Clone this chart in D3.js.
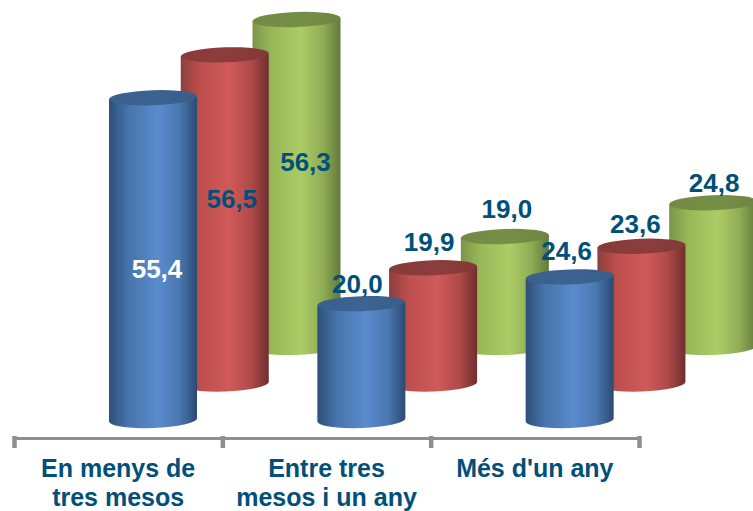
<!DOCTYPE html>
<html>
<head>
<meta charset="utf-8">
<script src="https://cdn.jsdelivr.net/npm/d3@7"></script>
<style>
	html, body {margin: 0; padding: 0; background: #fff; overflow: hidden;}
	svg {display: block;}
	text {font-family: "Liberation Sans", Arial, sans-serif; font-weight: bold; fill: #00507a;}
</style>
</head>
<body>
<div id="chart"></div>
<script>
// data
const CATEGORIES = ["En menys de|tres mesos", "Entre tres|mesos i un any", "Més d'un any"];
const SERIES = ["a", "b", "c"];
const VALUES_A = [55.4, 20.0, 24.6];
const VALUES_B = [56.5, 19.9, 23.6];
const VALUES_C = [56.3, 19.0, 24.8];

// frame
const FRAME_WIDTH = 753;
const FRAME_HEIGHT = 511;
const AXIS_Y = 438;
const BASE_Y = 420;
const BAR_LEFT = 95;
const RX = 44;
const RY = 7.5;
const TILT = 1.6;		// ellipses lean a little, right side up

const COLORS = {
	a: {top: "#3c6492", side: ["#2e4f78", "#4674ab", "#5a8bcd", "#4a78b0", "#2b4a70"]},
	b: {top: "#8c3d3b", side: ["#8c3f3e", "#bd4f4d", "#d05a58", "#ae4a48", "#6f2f2e"]},
	c: {top: "#768f46", side: ["#7c9548", "#98b858", "#abcd66", "#90ac55", "#62793a"]}
};

// label position relative to top centre of each cylinder, one row per series
const LABEL_NUDGE = {
	a: [[4, 171], [-4, -20], [-3, -26]],
	b: [[7, 144], [-4, -26], [-6, -22]],
	c: [[9, 142], [2, -27], [1, -20]]
};

const FRAME = d3.select("#chart")
				.append("svg")
					.attr("width", FRAME_WIDTH)
					.attr("height", FRAME_HEIGHT);

// scales
const X_SCALE = d3.scaleBand()
					.domain(CATEGORIES)
					.range([14, 639]);

const SERIES_X = d3.scalePoint()
					.domain(SERIES)
					.range([0, 143.5]);

// each series sits further back, so higher up
const SERIES_Y = d3.scalePoint()
					.domain(SERIES)
					.range([0, -73]);

const Y_SCALE = d3.scaleLinear()
					.domain([0, 60])
					.range([0, 349]);

// gradients
const DEFS = FRAME.append("defs");
SERIES.forEach((s) => {
	const grad = DEFS.append("linearGradient").attr("id", "side-" + s);
	[0, 0.22, 0.55, 0.8, 1].forEach((o, i) => {
		grad.append("stop").attr("offset", o).attr("stop-color", COLORS[s].side[i]);
	});
	const top = DEFS.append("linearGradient").attr("id", "top-" + s);
	top.append("stop").attr("offset", 0).attr("stop-color", d3.color(COLORS[s].top).darker(0.1));
	top.append("stop").attr("offset", 0.55).attr("stop-color", COLORS[s].top);
	top.append("stop").attr("offset", 1).attr("stop-color", d3.color(COLORS[s].top).darker(0.2));
});

// flat rows, back series first so the front ones paint over them
const ROWS = [];
[["c", VALUES_C], ["b", VALUES_B], ["a", VALUES_A]].forEach(([s, vals]) => {
	vals.forEach((v, i) => {
		const x0 = X_SCALE(CATEGORIES[i]) + BAR_LEFT + SERIES_X(s);
		const base = BASE_Y + SERIES_Y(s);
		ROWS.push({s: s, i: i, v: v, x0: x0, x1: x0 + 2 * RX, base: base, top: base - Y_SCALE(v)});
	});
});

const ANGLE = -Math.atan(TILT / RX) * 180 / Math.PI;

const BARS = FRAME.selectAll(".cyl")
					.data(ROWS)
					.enter()
					.append("g")
						.attr("class", "cyl");

// body with rounded bottom
BARS.append("path")
	.attr("d", (d) => {
		return "M" + d.x0 + "," + (d.top + TILT)
			+ "L" + d.x0 + "," + (d.base + TILT)
			+ "A" + RX + "," + (RY + 0.5) + " " + ANGLE + " 0 0 " + d.x1 + "," + (d.base - TILT)
			+ "L" + d.x1 + "," + (d.top - TILT) + "Z";
	})
	.attr("fill", (d) => {return "url(#side-" + d.s + ")";});

// top ellipse
BARS.append("path")
	.attr("d", (d) => {
		return "M" + d.x0 + "," + (d.top + TILT)
			+ "A" + RX + "," + RY + " " + ANGLE + " 1 1 " + d.x1 + "," + (d.top - TILT)
			+ "A" + RX + "," + RY + " " + ANGLE + " 1 1 " + d.x0 + "," + (d.top + TILT) + "Z";
	})
	.attr("fill", (d) => {return "url(#top-" + d.s + ")";});

// axis with ticks on the category boundaries
const AXIS_SCALE = d3.scaleLinear()
					.domain([0, CATEGORIES.length])
					.range(X_SCALE.range());

const AXIS = FRAME.append("g")
				.attr("transform", "translate(0," + AXIS_Y + ")")
				.call(d3.axisBottom(AXIS_SCALE)
						.tickValues(d3.range(CATEGORIES.length + 1))
						.tickFormat("")
						.tickSize(10)
						.tickSizeOuter(0));
AXIS.select(".domain").attr("stroke", "#8f8f8f").attr("stroke-width", 3);
AXIS.selectAll(".tick line").attr("stroke", "#8f8f8f").attr("stroke-width", 4.5).attr("y1", -2);

// category labels
FRAME.selectAll(".cat")
		.data(CATEGORIES)
		.enter()
		.append("text")
			.attr("class", "cat")
			.attr("text-anchor", "middle")
			.attr("font-size", "25px")
			.each(function(d) {
				d.split("|").forEach((line, i) => {
					d3.select(this).append("tspan")
						.attr("x", X_SCALE(d) + X_SCALE.bandwidth() / 2)
						.attr("y", 477 + i * 29)
						.text(line);
				});
			});

// value labels
FRAME.selectAll(".val")
		.data(ROWS)
		.enter()
		.append("text")
			.attr("class", "val")
			.attr("text-anchor", "middle")
			.attr("font-size", "26px")
			.attr("x", (d) => {return (d.x0 + d.x1) / 2 + LABEL_NUDGE[d.s][d.i][0];})
			.attr("y", (d) => {return d.top + LABEL_NUDGE[d.s][d.i][1] + 9;})
			.style("fill", (d) => {return (d.s == "a" && d.i == 0) ? "#ffffff" : null;})
			.text((d) => {return d.v.toFixed(1).replace(".", ",");});
</script>
</body>
</html>
